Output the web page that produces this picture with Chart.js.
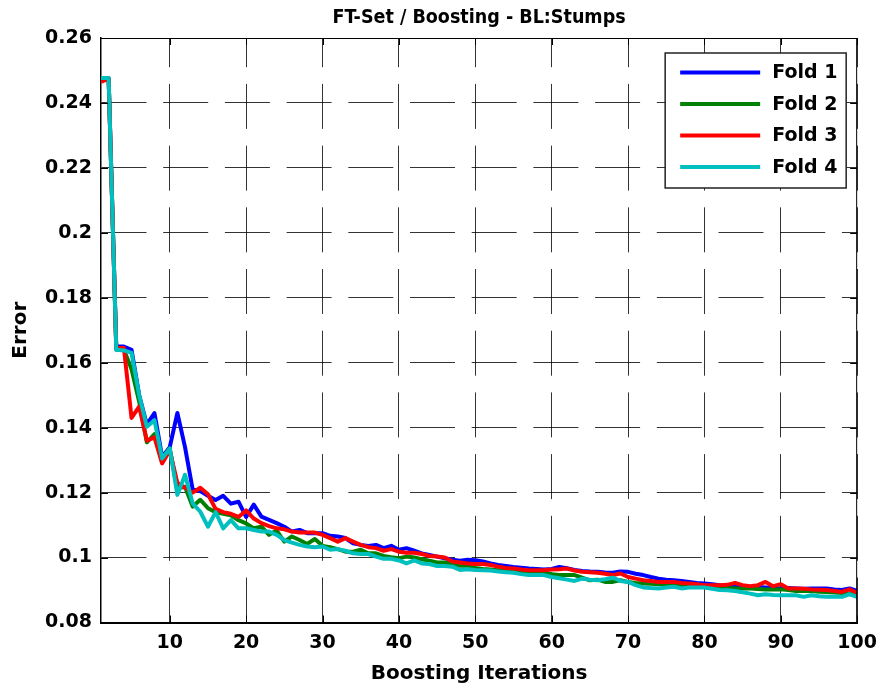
<!DOCTYPE html>
<html lang="en">
<head>
<meta charset="UTF-8">
<title>FT-Set / Boosting - BL:Stumps</title>
<script src="https://cdn.jsdelivr.net/npm/chart.js"></script>
<style>
  body { margin: 0; background: #fff; }
  #wrap { width: 886px; height: 693px; position: relative; }
</style>
</head>
<body>
<div id="wrap"><canvas id="grafica"></canvas></div>
<script>
// iteraciones 1..100 (eje x)
const iterations = Array.from({ length: 100 }, (_, i) => i + 1);

const foldLabels = ['Fold 1', 'Fold 2', 'Fold 3', 'Fold 4'];
const foldColors = ['#0000ff', '#008000', '#ff0000', '#00bfbf'];

const fold1 = [
  0.2475, 0.2475, 0.165, 0.165, 0.164, 0.150, 0.141, 0.1445, 0.131, 0.134,
  0.1445, 0.134, 0.121, 0.1205, 0.119, 0.1177, 0.119, 0.1166, 0.1172, 0.1125,
  0.1163, 0.1126, 0.1116, 0.1106, 0.1095, 0.108, 0.1085, 0.1075, 0.1075, 0.1075,
  0.1067, 0.1065, 0.106, 0.1044, 0.1039, 0.1036, 0.1039, 0.1029, 0.1036, 0.1024,
  0.1029, 0.1021, 0.1013, 0.1008, 0.1003, 0.0998, 0.0993, 0.099, 0.0993, 0.0992,
  0.0988, 0.0982, 0.0977, 0.0974, 0.0971, 0.0969, 0.0966, 0.0965, 0.0963, 0.0965,
  0.0971, 0.0967, 0.0962, 0.0959, 0.0957, 0.0956, 0.0954, 0.0953, 0.0957, 0.0956,
  0.095, 0.0946, 0.094, 0.0935, 0.0932, 0.093, 0.0928, 0.0925, 0.0922, 0.092,
  0.0918, 0.0915, 0.0913, 0.0912, 0.091, 0.0908, 0.0909, 0.0908, 0.0906, 0.0905,
  0.0906, 0.0905, 0.0904, 0.0905, 0.0905, 0.0905, 0.0902, 0.09, 0.0905, 0.0897
];
const fold2 = [
  0.2475, 0.2475, 0.164, 0.164, 0.158, 0.148, 0.1355, 0.138, 0.1305, 0.1336,
  0.1213, 0.1218, 0.1157, 0.1178, 0.1152, 0.114, 0.1135, 0.113, 0.1115, 0.1105,
  0.109, 0.1095, 0.107, 0.1083, 0.1049, 0.1065, 0.1054, 0.1042, 0.1057, 0.1036,
  0.1032, 0.1026, 0.1018, 0.1018, 0.1024, 0.1013, 0.1013, 0.1005, 0.1001, 0.0998,
  0.1003, 0.1, 0.0995, 0.099, 0.0985, 0.0985, 0.098, 0.0975, 0.0975, 0.0968,
  0.0965, 0.0963, 0.0961, 0.0961, 0.0961, 0.0957, 0.0953, 0.0952, 0.0951, 0.0949,
  0.0946, 0.0946, 0.0946, 0.0938, 0.093, 0.0932, 0.0925, 0.0925, 0.093, 0.0925,
  0.0922, 0.092, 0.0919, 0.0918, 0.0917, 0.0915, 0.0912, 0.091, 0.091, 0.091,
  0.0909, 0.0908, 0.0906, 0.0905, 0.0905, 0.0905, 0.0903, 0.0902, 0.0902, 0.0902,
  0.09, 0.0897, 0.0897, 0.0897, 0.0895, 0.0894, 0.0892, 0.0891, 0.0889, 0.0887
];
const fold3 = [
  0.2465, 0.2475, 0.1645, 0.1645, 0.143, 0.1465, 0.136, 0.137, 0.129, 0.133,
  0.123, 0.1215, 0.120, 0.1215, 0.1195, 0.115, 0.114, 0.1135, 0.1125, 0.1145,
  0.112, 0.1106, 0.1097, 0.109, 0.1087, 0.108, 0.1077, 0.1077, 0.1077, 0.107,
  0.106, 0.1049, 0.106, 0.1049, 0.1039, 0.1032, 0.1029, 0.1021, 0.1026, 0.1018,
  0.1015, 0.1015, 0.1011, 0.1005, 0.1003, 0.1, 0.0988, 0.0985, 0.0982, 0.098,
  0.098, 0.0977, 0.0972, 0.0968, 0.0966, 0.0963, 0.0961, 0.0961, 0.0961, 0.0963,
  0.0964, 0.0966, 0.096, 0.0956, 0.0955, 0.0953, 0.095, 0.0946, 0.0951, 0.094,
  0.0935, 0.093, 0.0928, 0.0925, 0.0925, 0.0925, 0.0922, 0.092, 0.0918, 0.0915,
  0.0915, 0.0915, 0.0916, 0.0922, 0.0915, 0.0912, 0.0915, 0.0925, 0.0912, 0.0918,
  0.0905, 0.0905, 0.0904, 0.0902, 0.0901, 0.09, 0.0897, 0.0894, 0.0902, 0.0891
];
const fold4 = [
  0.2477, 0.2477, 0.164, 0.1638, 0.163, 0.150, 0.1403, 0.1423, 0.1305, 0.1336,
  0.1193, 0.1255, 0.1167, 0.1141, 0.1095, 0.114, 0.109, 0.1115, 0.109, 0.109,
  0.1085, 0.108, 0.108, 0.107, 0.1054, 0.1046, 0.1039, 0.1034, 0.1032, 0.1034,
  0.1024, 0.1026, 0.1021, 0.1013, 0.1011, 0.1011, 0.1003, 0.0996, 0.0996, 0.0991,
  0.0982, 0.0991, 0.0982, 0.098, 0.0974, 0.0974, 0.0972, 0.0962, 0.0964, 0.0962,
  0.0961, 0.096, 0.0957, 0.0955, 0.0953, 0.0949, 0.0946, 0.0946, 0.0946, 0.094,
  0.0936, 0.0932, 0.0928, 0.0935, 0.0932, 0.093, 0.0933, 0.0938, 0.0928, 0.0925,
  0.0915, 0.0908, 0.0906, 0.0905, 0.0908, 0.091, 0.0905, 0.0908, 0.0908, 0.0908,
  0.0904, 0.09, 0.0899, 0.0897, 0.0893, 0.0889, 0.0884, 0.0887, 0.0885, 0.0884,
  0.0884, 0.0884, 0.0879, 0.0884, 0.0881, 0.0879, 0.0879, 0.0879, 0.0887, 0.0879
];
const foldData = [fold1, fold2, fold3, fold4];

const xTicks = [10, 20, 30, 40, 50, 60, 70, 80, 90, 100];
const yMin = 0.08, yMax = 0.26, yStep = 0.02;

Chart.defaults.font.family = "'DejaVu Sans', Verdana, sans-serif";
Chart.defaults.font.weight = 'bold';
Chart.defaults.color = '#000';

// caja estilo matlab: borde superior/derecho y marcas hacia dentro
const marco = {
  id: 'marco',
  afterDraw(chart) {
    const { ctx, chartArea: a, scales } = chart;
    ctx.save();
    ctx.strokeStyle = '#000';
    ctx.lineWidth = 1;
    ctx.beginPath();
    ctx.moveTo(a.left, a.top + 0.5); ctx.lineTo(a.right, a.top + 0.5);
    ctx.moveTo(a.right - 0.5, a.top); ctx.lineTo(a.right - 0.5, a.bottom);
    scales.y.ticks.forEach(t => {
      const y = Math.round(scales.y.getPixelForValue(t.value)) + 0.5;
      ctx.moveTo(a.right, y); ctx.lineTo(a.right - 7, y);
      ctx.moveTo(a.left, y); ctx.lineTo(a.left + 7, y);
    });
    scales.x.ticks.forEach(t => {
      const x = Math.round(scales.x.getPixelForValue(t.value)) + 0.5;
      ctx.moveTo(x, a.top); ctx.lineTo(x, a.top + 7);
      ctx.moveTo(x, a.bottom); ctx.lineTo(x, a.bottom - 7);
    });
    ctx.stroke();
    ctx.restore();
  }
};

// leyenda dentro del area, esquina superior derecha
const leyenda = {
  id: 'leyenda',
  afterDatasetsDraw(chart) {
    const { ctx, chartArea: a } = chart;
    const w = 181, h = 135;
    const x0 = a.right - 11 - w, y0 = a.top + 15;
    ctx.save();
    ctx.fillStyle = '#fff';
    ctx.fillRect(x0, y0, w, h);
    ctx.strokeStyle = '#222';
    ctx.lineWidth = 1.5;
    ctx.strokeRect(x0, y0, w, h);
    ctx.font = "bold 19px 'DejaVu Sans', Verdana, sans-serif";
    ctx.textBaseline = 'middle';
    ctx.textAlign = 'left';
    chart.data.datasets.forEach((ds, i) => {
      const y = y0 + 19.5 + i * 31.5;
      ctx.strokeStyle = ds.borderColor;
      ctx.lineWidth = 4;
      ctx.beginPath();
      ctx.moveTo(x0 + 15, y); ctx.lineTo(x0 + 95, y);
      ctx.stroke();
      ctx.fillStyle = '#000';
      ctx.fillText(ds.label, x0 + 107, y + 1);
    });
    ctx.restore();
  }
};

const ctx = document.getElementById('grafica').getContext('2d');
new Chart(ctx, {
  type: 'line',
  data: {
    labels: iterations,
    datasets: foldData.map((d, i) => ({
      label: foldLabels[i],
      data: d,
      borderColor: foldColors[i],
      backgroundColor: foldColors[i],
      borderWidth: 4,
      pointRadius: 0,
      tension: 0,
      fill: false,
      borderJoinStyle: 'round',
      order: 4 - i
    }))
  },
  options: {
    responsive: true,
    maintainAspectRatio: false,
    animation: false,
    layout: { padding: { left: 0, right: 26, top: 0, bottom: 0 } },
    plugins: {
      legend: { display: false },
      tooltip: { enabled: false },
      title: {
        display: true,
        text: 'FT-Set / Boosting - BL:Stumps',
        fullSize: false,
        color: '#000',
        font: { family: "'DejaVu Sans Condensed', 'DejaVu Sans', sans-serif", size: 19.5, weight: 'bold', lineHeight: 1.2 },
        padding: { top: 6, bottom: 8.6 }
      }
    },
    scales: {
      x: {
        type: 'linear',
        min: 1,
        max: 100,
        afterBuildTicks: s => { s.ticks = xTicks.map(v => ({ value: v })); },
        afterFit: s => { s.height = 70.5; },
        ticks: { font: { size: 19, weight: 'bold' }, color: '#000', padding: 9, maxRotation: 0 },
        grid: { color: 'rgba(0,0,0,0.8)', lineWidth: 1, drawTicks: false },
        border: { display: true, color: '#000', width: 2, dash: [45, 16.7], dashOffset: 15.8 },
        title: { display: true, text: 'Boosting Iterations', color: '#000', font: { size: 20, weight: 'bold' }, padding: { top: 4, bottom: 7 } }
      },
      y: {
        min: yMin,
        max: yMax,
        afterFit: s => { s.width = 101; },
        ticks: {
          stepSize: yStep,
          font: { size: 19, weight: 'bold' },
          color: '#000',
          padding: 9,
          callback: v => String(+v.toFixed(2))
        },
        grid: { color: 'rgba(0,0,0,0.8)', lineWidth: 1, drawTicks: false },
        border: { display: true, color: '#000', width: 1.5, dash: [45, 16.7], dashOffset: 0 },
        title: { display: true, text: 'Error', color: '#000', font: { size: 20, weight: 'bold' }, padding: { top: 9, bottom: 0 } }
      }
    }
  },
  plugins: [leyenda, marco]
});
</script>
</body>
</html>
